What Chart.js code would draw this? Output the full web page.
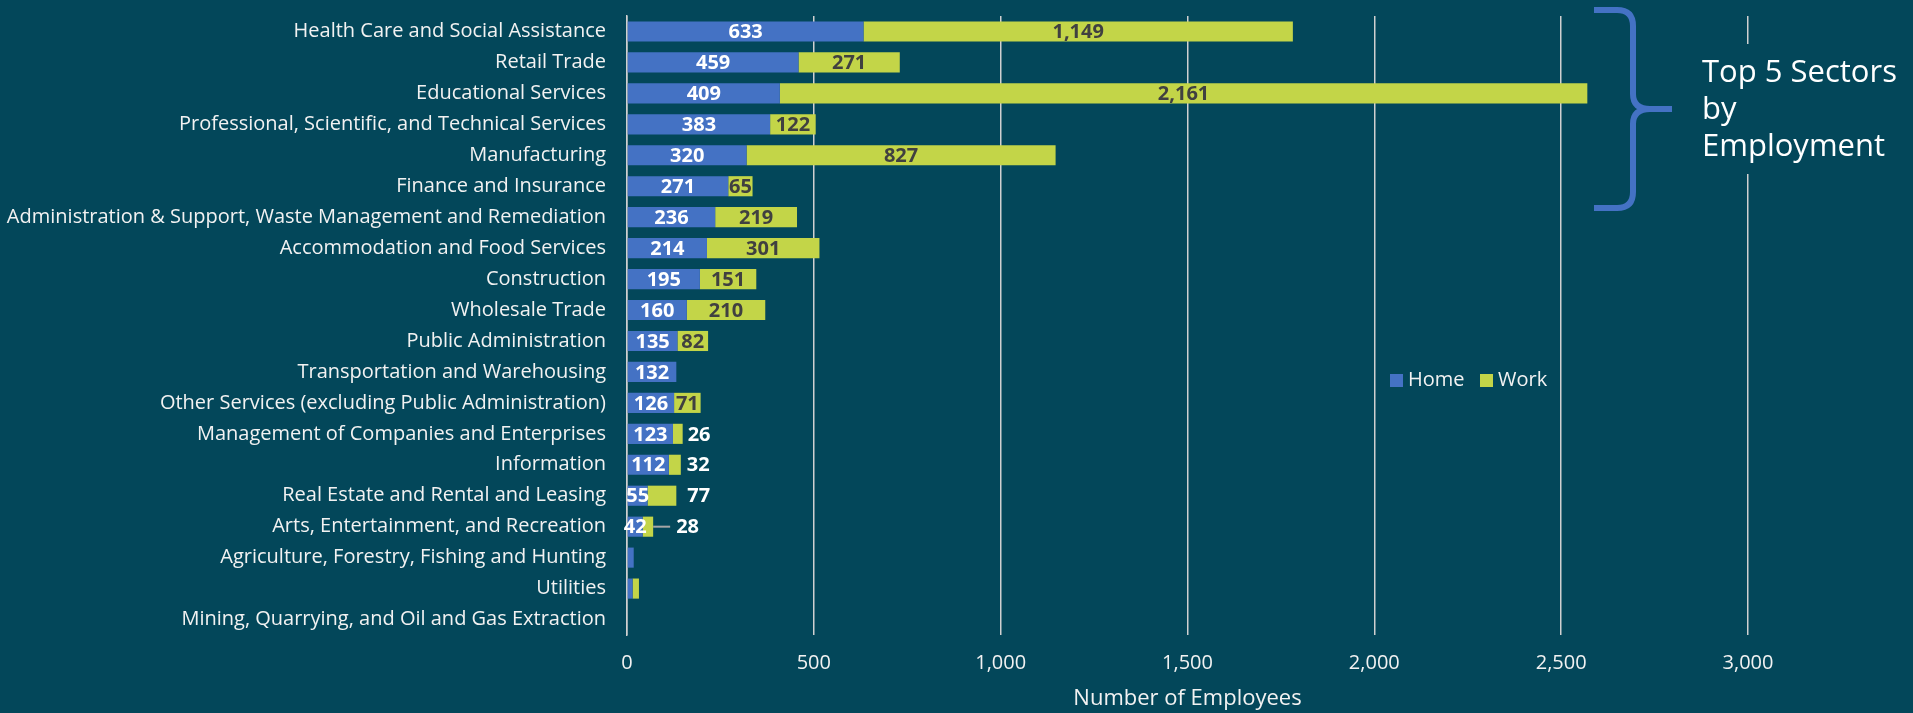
<!DOCTYPE html>
<html>
<head>
<meta charset="utf-8">
<title>Employment by sector</title>
<script src="https://cdn.jsdelivr.net/npm/chart.js@4.4.1/dist/chart.umd.min.js"></script>
<style>
    html, body { margin: 0; padding: 0; background: #03475a; }
    #wrap { width: 1913px; height: 713px; }
</style>
</head>
<body>
<div id="wrap"><canvas id="myChart" width="1913" height="713"></canvas></div>
<script>
'use strict';

const sectors = [
    'Health Care and Social Assistance',
    'Retail Trade',
    'Educational Services',
    'Professional, Scientific, and Technical Services',
    'Manufacturing',
    'Finance and Insurance',
    'Administration & Support, Waste Management and Remediation',
    'Accommodation and Food Services',
    'Construction',
    'Wholesale Trade',
    'Public Administration',
    'Transportation and Warehousing',
    'Other Services (excluding Public Administration)',
    'Management of Companies and Enterprises',
    'Information',
    'Real Estate and Rental and Leasing',
    'Arts, Entertainment, and Recreation',
    'Agriculture, Forestry, Fishing and Hunting',
    'Utilities',
    'Mining, Quarrying, and Oil and Gas Extraction'
];
const homeValues = [633, 459, 409, 383, 320, 271, 236, 214, 195, 160, 135, 132, 126, 123, 112, 55, 42, 18, 15, 0];
const workValues = [1149, 271, 2161, 122, 827, 65, 219, 301, 151, 210, 82, 0, 71, 26, 32, 77, 28, 0, 17, 0];
const xTicks = [0, 500, 1000, 1500, 2000, 2500, 3000];
const seriesNames = ['Home', 'Work'];
const noteLines = ['Top 5 Sectors', 'by', 'Employment'];

const BG = '#03475a';
const BLUE = '#4472c4';
const GREEN = '#c3d548';
const TEXT = '#f2f2f2';
const GRID = '#d0d0d0';

// work labels that Excel put outside the bar: index -> gap from bar end
const outsideGap = { 13: 5, 14: 6, 15: 11, 16: 23 };

Chart.defaults.font.family = "'Open Sans', sans-serif";
Chart.defaults.color = TEXT;

const barLabels = {
    id: 'barLabels',
    afterDatasetsDraw(chart) {
        const ctx = chart.ctx;
        ctx.save();
        ctx.font = "bold 20px 'Open Sans'";
        ctx.textBaseline = 'middle';
        chart.data.datasets.forEach((ds, di) => {
            chart.getDatasetMeta(di).data.forEach((bar, i) => {
                const v = ds.data[i];
                if (v < (di === 0 ? 30 : 20)) return;
                const txt = v.toLocaleString('en-US');
                if (di === 1 && outsideGap[i] !== undefined) {
                    const gap = outsideGap[i];
                    if (gap > 15) {
                        ctx.strokeStyle = '#a6a6a6';
                        ctx.lineWidth = 2;
                        ctx.beginPath();
                        ctx.moveTo(bar.x, bar.y);
                        ctx.lineTo(bar.x + gap - 6, bar.y);
                        ctx.stroke();
                    }
                    ctx.fillStyle = '#ffffff';
                    ctx.textAlign = 'left';
                    ctx.fillText(txt, bar.x + gap, bar.y + 1);
                } else {
                    ctx.fillStyle = di === 0 ? '#ffffff' : '#404040';
                    ctx.textAlign = 'center';
                    ctx.fillText(txt, (bar.x + bar.base) / 2, bar.y + 1);
                }
            });
        });
        ctx.restore();
    }
};

const extras = {
    id: 'extras',
    afterDraw(chart) {
        const ctx = chart.ctx;
        ctx.save();
        // legend inside the plot
        ctx.font = "20px 'Open Sans'";
        ctx.textBaseline = 'middle';
        ctx.textAlign = 'left';
        const lx = [1390, 1480];
        chart.data.datasets.forEach((ds, di) => {
            ctx.fillStyle = ds.backgroundColor;
            ctx.fillRect(lx[di], 374, 13, 13);
            ctx.fillStyle = TEXT;
            ctx.fillText(ds.label, lx[di] + 18, 380);
        });
        // text box over the last gridline
        ctx.fillStyle = BG;
        ctx.fillRect(1694, 44, 219, 130);
        ctx.fillStyle = '#ffffff';
        ctx.font = "31px 'Open Sans'";
        ctx.textBaseline = 'alphabetic';
        noteLines.forEach((t, k) => ctx.fillText(t, 1702, 82 + k * 37));
        // brace
        ctx.strokeStyle = BLUE;
        ctx.lineWidth = 6;
        ctx.lineCap = 'butt';
        ctx.beginPath();
        ctx.moveTo(1594, 10);
        ctx.lineTo(1617, 10);
        ctx.quadraticCurveTo(1633, 10, 1633, 26);
        ctx.lineTo(1633, 94);
        ctx.quadraticCurveTo(1633, 109, 1650, 109);
        ctx.lineTo(1672, 109);
        ctx.moveTo(1650, 109);
        ctx.quadraticCurveTo(1633, 109, 1633, 124);
        ctx.lineTo(1633, 192);
        ctx.quadraticCurveTo(1633, 208, 1617, 208);
        ctx.lineTo(1594, 208);
        ctx.stroke();
        ctx.restore();
    }
};

const data = {
    labels: sectors,
    datasets: [{
        label: seriesNames[0],
        data: homeValues,
        backgroundColor: BLUE,
        borderWidth: 0
    }, {
        label: seriesNames[1],
        data: workValues,
        backgroundColor: GREEN,
        borderWidth: 0
    }]
};

const config = {
    type: 'bar',
    data: data,
    options: {
        indexAxis: 'y',
        responsive: false,
        animation: false,
        barPercentage: 0.65,
        categoryPercentage: 1,
        layout: {
            padding: { left: 0, right: 165, top: 16, bottom: 0 }
        },
        plugins: {
            legend: { display: false },
            tooltip: { enabled: false }
        },
        scales: {
            x: {
                stacked: true,
                min: xTicks[0],
                max: xTicks[xTicks.length - 1],
                afterBuildTicks: (scale) => {
                    scale.ticks = xTicks.map(v => ({ value: v }));
                },
                afterFit: (scale) => {
                    scale.height = 78;
                    scale.paddingLeft = 0;
                    scale.paddingRight = 0;
                },
                ticks: {
                    color: TEXT,
                    padding: 16,
                    font: { size: 20 },
                    callback: (v) => Number(v).toLocaleString('en-US')
                },
                grid: {
                    color: GRID,
                    lineWidth: 1.5,
                    drawTicks: false
                },
                border: { display: false },
                title: {
                    display: true,
                    text: 'Number of Employees',
                    color: TEXT,
                    font: { size: 22 },
                    padding: { top: 0, bottom: 1 }
                }
            },
            y: {
                stacked: true,
                afterFit: (scale) => {
                    scale.width = 627;
                    scale.paddingTop = 0;
                    scale.paddingBottom = 0;
                },
                ticks: {
                    color: TEXT,
                    padding: 21,
                    font: { size: 20 }
                },
                grid: { display: false, drawTicks: false },
                border: { display: true, color: GRID, width: 1.5 }
            }
        }
    },
    plugins: [barLabels, extras]
};

let myChart = new Chart(
    document.getElementById('myChart'),
    config
);
</script>
</body>
</html>
